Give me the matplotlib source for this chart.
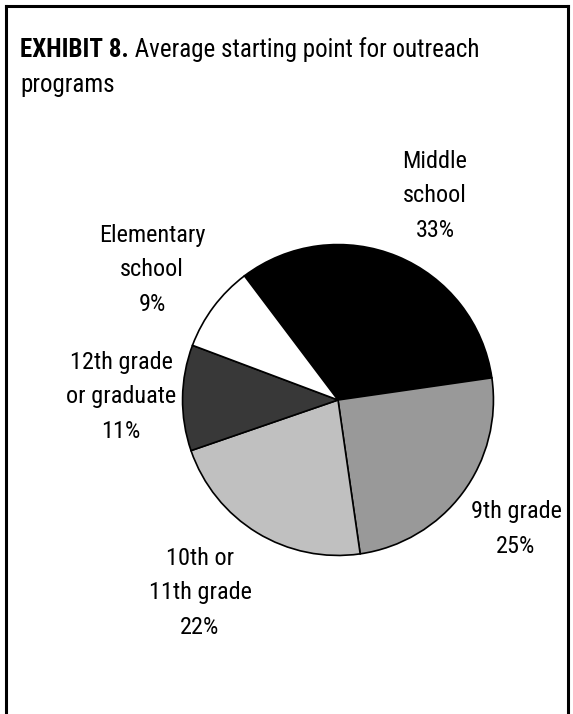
import matplotlib
matplotlib.use("Agg")
import matplotlib.pyplot as plt
from matplotlib.lines import Line2D

plt.rcParams['font.family'] = ['Roboto Condensed', 'DejaVu Sans']

# Data
categories = ["Middle\nschool", "9th grade", "10th or\n11th grade",
              "12th grade\nor graduate", "Elementary\nschool"]
shares = [33, 25, 22, 11, 9]
colors = ["#000000", "#999999", "#c0c0c0", "#383838", "#ffffff"]

W, H = 573, 714
DPI = 100
FS = 17.5
FS_TITLE = 18
fig = plt.figure(figsize=(W / DPI, H / DPI), dpi=DPI)
fig.patch.set_facecolor("white")

def fx(px):
    return px / W

def fy(py):
    return 1 - py / H

# Frame: left, top and right rules (open at the bottom)
lw_frame = 2.2
fig.add_artist(Line2D([fx(6), fx(6)], [fy(6), 0], color="black", lw=lw_frame))
fig.add_artist(Line2D([fx(6), fx(568)], [fy(6), fy(6)], color="black", lw=lw_frame))
fig.add_artist(Line2D([fx(568), fx(568)], [fy(6), 0], color="black", lw=lw_frame))

# Title: bold exhibit number followed by the regular caption
renderer = fig.canvas.get_renderer()
head = fig.text(fx(20), fy(50), "EXHIBIT 8.", fontsize=FS_TITLE,
                fontweight="bold", ha="left", va="center")
bb = head.get_window_extent(renderer)
fig.text(bb.x1 / W, fy(50), " Average starting point for outreach",
         fontsize=FS_TITLE, ha="left", va="center")
fig.text(fx(20), fy(85), "programs", fontsize=FS_TITLE, ha="left", va="center")

# Pie
cx, cy, r = 338, 400, 157
ax = fig.add_axes([fx(cx - r), fy(cy + r), 2 * r / W, 2 * r / H])
wedges, _ = ax.pie(shares, colors=colors, startangle=127, counterclock=False,
                   radius=1.0,
                   wedgeprops=dict(edgecolor="black", linewidth=1.2))
ax.set_xlim(-1.01, 1.01)
ax.set_ylim(-1.01, 1.01)
ax.set_aspect("equal")
ax.axis("off")

# Slice labels
label_pos = [(435, 196), (516, 529), (200, 593), (121, 397), (152, 270)]
for cat, val, (px, py) in zip(categories, shares, label_pos):
    fig.text(fx(px), fy(py), f"{cat}\n{val}%", fontsize=FS, ha="center",
             va="center", multialignment="center", linespacing=1.66)

fig.savefig("out.png", dpi=DPI, facecolor="white")
